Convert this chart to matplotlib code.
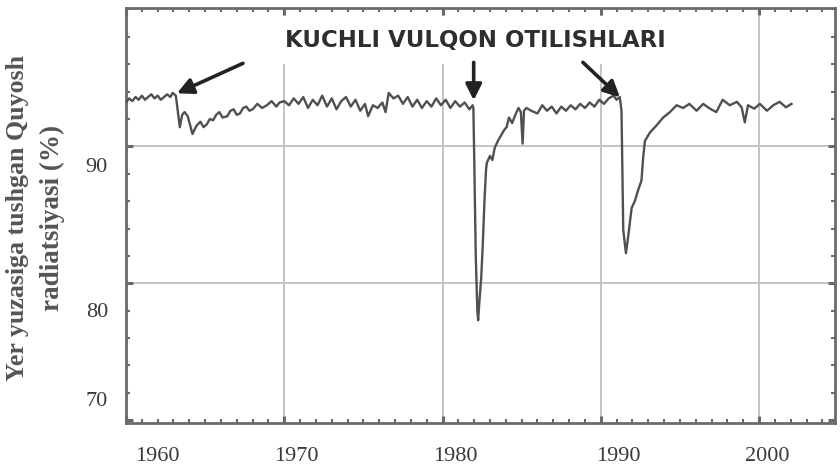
import matplotlib
matplotlib.use("Agg")
import matplotlib.pyplot as plt
from matplotlib.transforms import ScaledTranslation

# --- data (transmission of solar radiation, %) ---
years_early = [1960.0, 1960.2, 1960.4, 1960.6, 1960.8, 1961.0, 1961.2, 1961.4, 1961.6,
               1961.8, 1962.0, 1962.2, 1962.4, 1962.6, 1962.8, 1962.95, 1963.15,
               1963.4, 1963.55, 1963.7, 1963.9, 1964.2, 1964.45, 1964.7, 1964.9,
               1965.1, 1965.3, 1965.5, 1965.7, 1965.9, 1966.1, 1966.4, 1966.6,
               1966.8, 1967.0, 1967.2, 1967.4, 1967.6, 1967.8, 1968.0, 1968.3,
               1968.6, 1968.9, 1969.2, 1969.5, 1969.7]
vals_early = [93.2, 93.5, 93.3, 93.6, 93.4, 93.7, 93.4, 93.6, 93.8,
              93.5, 93.7, 93.4, 93.6, 93.8, 93.6, 93.9, 93.7,
              91.4, 92.3, 92.5, 92.2, 90.9, 91.5, 91.8, 91.4,
              91.6, 92.0, 91.9, 92.3, 92.5, 92.1, 92.2, 92.6,
              92.7, 92.3, 92.4, 92.8, 92.9, 92.6, 92.7, 93.1,
              92.8, 93.0, 93.3, 92.9, 93.2]

years_mid = [1970.0, 1970.3, 1970.6, 1970.9, 1971.2, 1971.5, 1971.8, 1972.1, 1972.4,
             1972.7, 1973.0, 1973.3, 1973.6, 1973.9, 1974.2, 1974.5, 1974.8, 1975.1,
             1975.3, 1975.6, 1975.9, 1976.2, 1976.4, 1976.6, 1976.9, 1977.2, 1977.5,
             1977.8, 1978.1, 1978.4, 1978.7, 1979.0, 1979.3, 1979.6, 1979.9, 1980.2,
             1980.5, 1980.8, 1981.1, 1981.4, 1981.7, 1981.9]
vals_mid = [93.3, 93.0, 93.5, 93.1, 93.6, 92.8, 93.4, 93.0, 93.7,
            92.9, 93.5, 92.7, 93.3, 93.6, 92.9, 93.4, 92.6, 93.1,
            92.2, 93.0, 92.8, 93.2, 92.5, 93.9, 93.5, 93.7, 93.1,
            93.6, 92.9, 93.4, 92.8, 93.3, 92.9, 93.5, 93.0, 93.4,
            92.8, 93.3, 92.9, 93.2, 92.7, 93.0]

# El Chichon
years_chichon = [1981.95, 1982.02, 1982.1, 1982.2, 1982.25, 1982.32, 1982.45, 1982.55,
                 1982.65, 1982.75, 1982.8, 1983.0, 1983.15, 1983.3, 1983.5, 1983.7,
                 1983.9, 1984.05, 1984.2, 1984.4, 1984.6, 1984.8, 1984.95, 1985.06,
                 1985.15]
vals_chichon = [92.8, 88.0, 82.0, 78.0, 77.3, 78.5, 80.5, 83.0,
                86.0, 88.3, 88.8, 89.3, 89.0, 89.9, 90.4, 90.8,
                91.2, 91.4, 92.1, 91.7, 92.3, 92.8, 92.5, 90.2,
                92.6]

years_late = [1985.3, 1985.6, 1986.0, 1986.3, 1986.6, 1986.9, 1987.2, 1987.5, 1987.8,
              1988.1, 1988.4, 1988.7, 1989.0, 1989.3, 1989.6, 1989.9, 1990.2, 1990.5,
              1990.8, 1991.0, 1991.2]
vals_late = [92.8, 92.6, 92.4, 93.0, 92.6, 92.9, 92.4, 92.9, 92.6,
             93.0, 92.7, 93.1, 92.8, 93.2, 92.9, 93.4, 93.1, 93.5,
             93.7, 93.4, 93.6]

# Pinatubo
years_pinatubo = [1991.31, 1991.42, 1991.59, 1991.73, 1991.95, 1992.15, 1992.36, 1992.57,
                  1992.68, 1992.79, 1993.1, 1993.5, 1993.94, 1994.37, 1994.79, 1995.2,
                  1995.6, 1996.05, 1996.47, 1996.9, 1997.3, 1997.7, 1998.15, 1998.6,
                  1998.9, 1999.1, 1999.3, 1999.7, 2000.05, 2000.5, 2000.9, 2001.3,
                  2001.7, 2002.05]
vals_pinatubo = [92.6, 83.9, 82.2, 83.4, 85.5, 86.0, 86.8, 87.5,
                 89.2, 90.4, 91.0, 91.5, 92.1, 92.5, 93.0, 92.8,
                 93.1, 92.6, 93.1, 92.75, 92.5, 93.4, 93.0, 93.25,
                 92.85, 91.75, 93.0, 92.75, 93.1, 92.6, 93.0, 93.25,
                 92.85, 93.1]

xtick_years = [1960, 1970, 1980, 1990, 2000]
ytick_vals = [70, 80, 90]

years = years_early + years_mid + years_chichon + years_late + years_pinatubo
vals = vals_early + vals_mid + vals_chichon + vals_late + vals_pinatubo

# --- figure ---
fig = plt.figure(figsize=(8.4, 4.68), dpi=100)
ax = fig.add_axes([126 / 840, 45 / 468, 709 / 840, 415 / 468])

ax.plot(years, vals, color="#505050", lw=1.7, zorder=3)

ax.set_xlim(1960, 2004.8)
ax.set_ylim(69.8, 100.1)

# grid only at the inner major ticks
for xv in xtick_years[1:]:
    ax.axvline(xv, color="#c4c4c4", lw=1.4, zorder=1)
for yv in [80, 90]:
    ax.axhline(yv, color="#c4c4c4", lw=1.4, zorder=1)

for sp in ax.spines.values():
    sp.set_color("#6a6a6a")
    sp.set_linewidth(2)

ax.set_xticks(xtick_years)
ax.set_yticks(ytick_vals)
ax.set_xticks(range(1960, 2005), minor=True)
ax.set_yticks(range(70, 101, 2), minor=True)
ax.tick_params(which="both", direction="in", top=True, right=True, color="#6a6a6a")
ax.tick_params(which="major", length=5, width=2.2)
ax.tick_params(which="minor", length=3, width=1.5)
ax.tick_params(axis="x", which="major", pad=17)
ax.tick_params(axis="y", which="major", pad=13)

serif = ["Liberation Serif", "DejaVu Serif"]
for lab in ax.get_xticklabels() + ax.get_yticklabels():
    lab.set_fontfamily(serif)
    lab.set_fontsize(16)
    lab.set_color("#3a3a3a")

# the scan has its tick labels drifted from the ticks; shift them (pixels)
x_shift = [31, 12, 13, 18, 8]
y_shift = [21, -27, -19]
for lab, dx in zip(ax.get_xticklabels(), x_shift):
    lab.set_transform(lab.get_transform() + ScaledTranslation(dx / 100, 0, fig.dpi_scale_trans))
for lab, dy in zip(ax.get_yticklabels(), y_shift):
    lab.set_transform(lab.get_transform() + ScaledTranslation(0, dy / 100, fig.dpi_scale_trans))

# y label, two lines
fig.text(18 / 840, 0.534, "Yer yuzasiga tushgan Quyosh", rotation=90,
         ha="center", va="center", fontsize=18.6, fontweight="bold",
         family=serif, color="#555555")
fig.text(52 / 840, 0.534, "radiatsiyasi (%)", rotation=90,
         ha="center", va="center", fontsize=19.5, fontweight="bold",
         family=serif, color="#555555")

# title + arrows
ax.text(1982.05, 97.74, "KUCHLI VULQON OTILISHLARI", ha="center", va="center",
        fontsize=16.5, fontweight="bold", family=["DejaVu Sans"],
        color="#2e2e2e", zorder=4,
        bbox=dict(facecolor="white", edgecolor="none", pad=9))

arrow = dict(arrowstyle="-|>", color="#222222", lw=2.6, mutation_scale=24,
             shrinkA=0, shrinkB=0)
ax.annotate("", xy=(1963.22, 93.87), xytext=(1967.39, 96.06), arrowprops=arrow, zorder=5)
ax.annotate("", xy=(1981.97, 93.36), xytext=(1981.97, 96.13), arrowprops=arrow, zorder=5)
ax.annotate("", xy=(1991.21, 93.58), xytext=(1988.87, 96.13), arrowprops=arrow, zorder=5)

fig.savefig("out.png", dpi=100, facecolor="white")
